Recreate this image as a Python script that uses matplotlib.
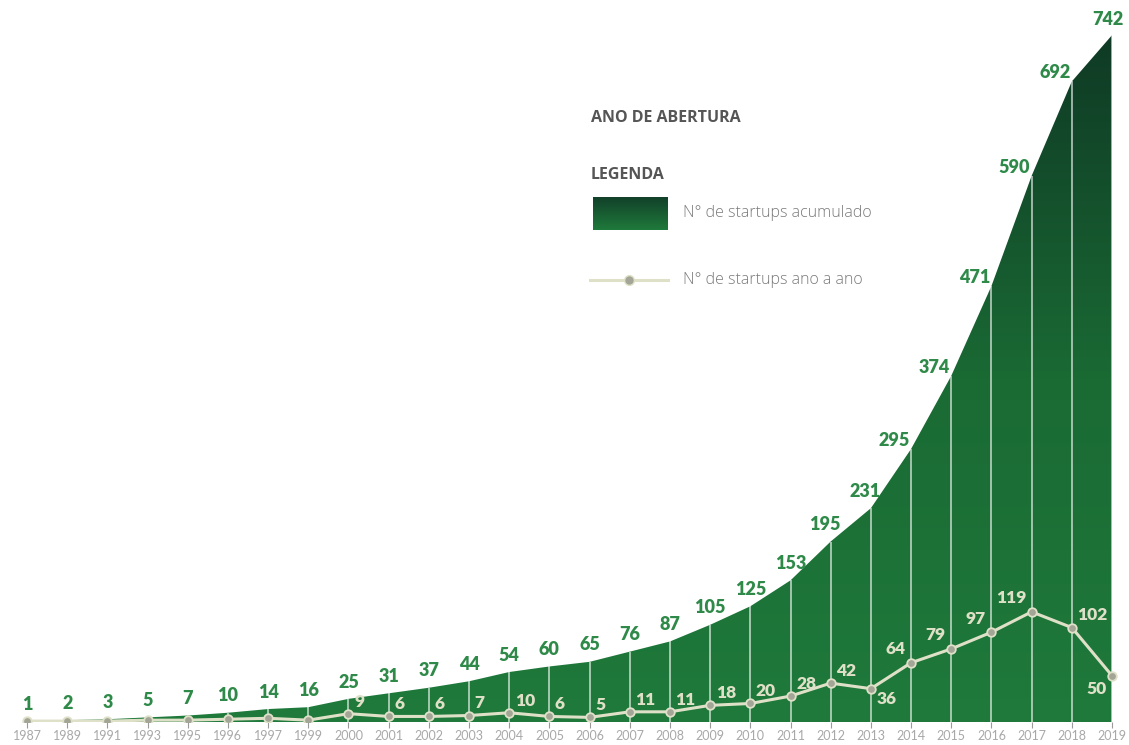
import matplotlib
matplotlib.use('Agg')
import matplotlib.pyplot as plt
import matplotlib.patches as patches
from matplotlib.colors import LinearSegmentedColormap
import numpy as np

years = ['1987', '1989', '1991', '1993', '1995', '1996', '1997', '1999', '2000',
         '2001', '2002', '2003', '2004', '2005', '2006', '2007', '2008', '2009',
         '2010', '2011', '2012', '2013', '2014', '2015', '2016', '2017', '2018', '2019']
acumulado = [1, 2, 3, 5, 7, 10, 14, 16, 25, 31, 37, 44, 54, 60, 65, 76, 87, 105,
             125, 153, 195, 231, 295, 374, 471, 590, 692, 742]
ano_a_ano = [1, 1, 1, 2, 2, 3, 4, 2, 9, 6, 6, 7, 10, 6, 5, 11, 11, 18, 20, 28,
             42, 36, 64, 79, 97, 119, 102, 50]

green_lbl = '#2f8a49'
cream = '#dfe0c8'
dot = '#a3a696'

fig = plt.figure(figsize=(11.29, 7.45), dpi=100)
ax = fig.add_axes([0, 23 / 745, 1, 722 / 745])
x = np.arange(len(years))
ax.set_xlim(-0.672, 27.423)
ax.set_ylim(0, 780)

# gradient area clipped to the cumulative polygon
cmap = LinearSegmentedColormap.from_list('g', ['#1f7a3b', '#1a6a34', '#0f3a25'])
grad = np.linspace(0, 1, 256).reshape(-1, 1)
img = ax.imshow(grad, cmap=cmap, origin='lower', aspect='auto',
                extent=[x[0], x[-1], 0, 742], zorder=1)
clip = patches.Polygon(np.column_stack([np.r_[x, x[::-1]],
                                        np.r_[acumulado, np.zeros(len(x))]]),
                       closed=True, transform=ax.transData)
img.set_clip_path(clip)

# white separators
ax.vlines(x, 0, acumulado, color='white', lw=1.1, alpha=0.75, zorder=2)

# annual line
ax.plot(x, ano_a_ano, color=cream, lw=2.2, zorder=3)
ax.scatter(x, ano_a_ano, s=38, color=dot, edgecolors=cream, linewidths=1.3, zorder=4)

# cumulative labels (steep part: label sits left of the point)
for i, v in enumerate(acumulado):
    if 22 <= i <= 26:
        off, ha = (-1, 0), 'right'
    elif i == 27:
        off, ha = (-3, 5), 'center'
    elif i in (20, 21):
        off, ha = (-4, 6), 'center'
    else:
        off, ha = (0, 6), 'center'
    ax.annotate(str(v), (x[i], v), xytext=off,
                textcoords='offset points', ha=ha, va='bottom',
                color=green_lbl, fontsize=13, fontweight='heavy', family='Lato',
                zorder=5)

# annual labels
pos = {21: (4, -2, 'left', 'top'), 22: (-4, 4, 'right', 'bottom'),
       23: (-4, 4, 'right', 'bottom'), 24: (-4, 4, 'right', 'bottom'),
       25: (-4, 4, 'right', 'bottom'), 27: (-4, -4, 'right', 'top')}
for i in range(8, len(x)):
    dx, dy, ha, va = pos.get(i, (4, 3, 'left', 'bottom'))
    ax.annotate(str(ano_a_ano[i]), (x[i], ano_a_ano[i]), xytext=(dx, dy),
                textcoords='offset points', ha=ha, va=va, color=cream,
                fontsize=12.5, fontweight='heavy', family='Lato', zorder=5)

ax.set_xticks(x)
ax.set_xticklabels(years, fontsize=9, color='#a8a8a8', family='Lato')
ax.tick_params(axis='x', length=4, color='#9a9a9a', pad=2)
ax.set_yticks([])
for s in ax.spines.values():
    s.set_visible(False)

# legend
fig.text(591 / 1129, 1 - 118 / 745, 'ANO DE ABERTURA', fontsize=11.5,
         fontweight='bold', color='#555555', family='Open Sans', va='center')
fig.text(591 / 1129, 1 - 175 / 745, 'LEGENDA', fontsize=11.5,
         fontweight='bold', color='#555555', family='Open Sans', va='center')
lax = fig.add_axes([593 / 1129, 1 - 230 / 745, 75 / 1129, 33 / 745])
lax.imshow(grad, cmap=LinearSegmentedColormap.from_list('l', ['#1f7a3b', '#12402a']),
           origin='lower', aspect='auto', extent=[0, 1, 0, 1])
lax.axis('off')
fig.text(683 / 1129, 1 - 213 / 745, 'N° de startups acumulado', fontsize=11.5,
         color='#7a7a7a', family='Open Sans', fontweight='light', va='center')
fig.add_artist(plt.Line2D([590 / 1129, 668 / 1129], [1 - 280 / 745] * 2,
                          color=cream, lw=2.2))
fig.add_artist(plt.Line2D([629 / 1129], [1 - 280 / 745], marker='o',
                          markersize=7, color=dot, markeredgecolor=cream))
fig.text(683 / 1129, 1 - 280 / 745, 'N° de startups ano a ano', fontsize=11.5,
         color='#7a7a7a', family='Open Sans', fontweight='light', va='center')

fig.savefig('out.png', dpi=100, facecolor='white')
